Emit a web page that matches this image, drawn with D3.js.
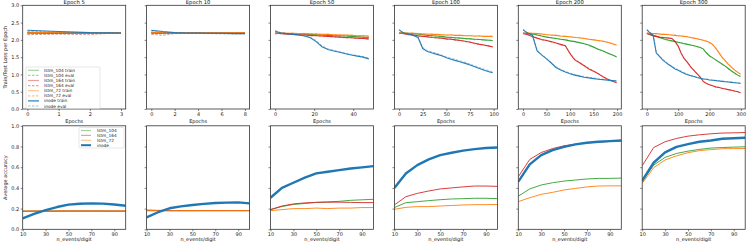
<!DOCTYPE html>
<html><head><meta charset="utf-8">
<script src="https://cdn.jsdelivr.net/npm/d3@7"></script>
<style>body{margin:0;background:#fff}svg{display:block;font-family:"DejaVu Sans",sans-serif}</style>
</head><body><svg id="c" width="747" height="242"></svg>
<script>
// ---------- top row: loss per epoch ----------
const panelTitles = ["Epoch 5","Epoch 10","Epoch 50","Epoch 100","Epoch 200","Epoch 300"];
const lossTicks = [0,0.5,1.0,1.5,2.0,2.5,3.0];
const epochTicks5 = [0,1,2,3];
const epochTicks10 = [0,2,4,6,8];
const epochTicks50 = [0,20,40];
const epochTicks100 = [0,25,50,75,100];
const epochTicks200 = [0,50,100,150,200];
const epochTicks300 = [0,100,200,300];

const ep5 = [0,1,2,3];
const l5_104t = [2.21,2.20,2.20,2.20], l5_104e = [2.17,2.17,2.18,2.19];
const l5_164t = [2.20,2.19,2.19,2.20], l5_164e = [2.15,2.17,2.15,2.21];
const l5_72t = [2.22,2.21,2.20,2.20],  l5_72e = [2.21,2.20,2.19,2.20];
const l5_it = [2.28,2.24,2.21,2.20],   l5_ie = [2.25,2.23,2.21,2.19];

const ep10 = [0,1,2,3,4,5,6,7,8];
const l10_104t = [2.21,2.20,2.20,2.20,2.20,2.20,2.20,2.20,2.20], l10_104e = [2.18,2.17,2.19,2.19,2.20,2.19,2.19,2.20,2.19];
const l10_164t = [2.20,2.19,2.20,2.20,2.20,2.20,2.20,2.20,2.20], l10_164e = [2.16,2.13,2.18,2.19,2.19,2.20,2.19,2.19,2.20];
const l10_72t = [2.22,2.21,2.20,2.20,2.20,2.20,2.20,2.20,2.20],  l10_72e = [2.21,2.19,2.20,2.19,2.20,2.20,2.20,2.20,2.20];
const l10_it = [2.28,2.24,2.21,2.20,2.20,2.19,2.19,2.18,2.18],   l10_ie = [2.26,2.22,2.20,2.19,2.19,2.18,2.17,2.17,2.17];

const ep50 = [0,3,6,9,12,15,18,21,24,27,30,33,36,39,42,45,48];
const l50_104t = [2.19,2.19,2.18,2.18,2.17,2.17,2.16,2.15,2.14,2.13,2.12,2.12,2.11,2.10,2.09,2.08,2.07];
const l50_104e = [2.20,2.18,2.19,2.17,2.18,2.16,2.17,2.14,2.15,2.12,2.13,2.11,2.12,2.09,2.10,2.07,2.08];
const l50_164t = [2.19,2.18,2.17,2.16,2.15,2.14,2.13,2.12,2.11,2.10,2.09,2.08,2.07,2.06,2.05,2.04,2.03];
const l50_164e = [2.17,2.19,2.15,2.17,2.13,2.15,2.11,2.13,2.09,2.11,2.07,2.09,2.05,2.06,2.03,2.05,2.01];
const l50_72t = [2.20,2.20,2.19,2.19,2.18,2.18,2.17,2.17,2.16,2.16,2.15,2.14,2.14,2.13,2.12,2.12,2.11];
const l50_72e = [2.19,2.21,2.18,2.20,2.17,2.19,2.16,2.18,2.15,2.17,2.14,2.16,2.13,2.14,2.11,2.13,2.10];
const l50_it = [2.25,2.20,2.18,2.16,2.14,2.11,2.06,1.95,1.80,1.72,1.68,1.64,1.60,1.56,1.53,1.50,1.45];
const l50_ie = [2.27,2.21,2.19,2.17,2.15,2.12,2.08,1.98,1.83,1.74,1.70,1.66,1.62,1.58,1.55,1.52,1.47];

const ep100 = [0,5,10,15,20,25,30,35,40,45,50,55,60,65,70,75,80,85,90,95,99];
const l100_104t = [2.20,2.20,2.19,2.18,2.17,2.15,2.13,2.12,2.11,2.10,2.08,2.07,2.06,2.05,2.04,2.03,2.02,2.01,2.00,1.99,1.98];
const l100_104e = [2.19,2.21,2.18,2.19,2.15,2.16,2.11,2.13,2.09,2.11,2.06,2.08,2.04,2.06,2.02,2.04,2.00,2.02,1.98,2.00,1.97];
const l100_164t = [2.20,2.18,2.16,2.14,2.12,2.10,2.09,2.07,2.06,2.05,2.03,2.02,2.00,1.98,1.96,1.93,1.90,1.87,1.85,1.82,1.80];
const l100_164e = [2.18,2.19,2.14,2.15,2.10,2.11,2.07,2.08,2.04,2.06,2.01,2.03,1.98,1.99,1.94,1.95,1.88,1.89,1.83,1.84,1.78];
const l100_72t = [2.20,2.20,2.19,2.19,2.18,2.17,2.17,2.16,2.16,2.15,2.14,2.14,2.13,2.13,2.12,2.12,2.11,2.11,2.10,2.10,2.10];
const l100_72e = [2.19,2.21,2.18,2.20,2.17,2.18,2.15,2.17,2.14,2.16,2.13,2.15,2.12,2.14,2.11,2.13,2.10,2.12,2.09,2.11,2.09];
const l100_it = [2.29,2.19,2.16,2.13,2.07,1.75,1.66,1.62,1.58,1.54,1.48,1.44,1.40,1.36,1.32,1.27,1.22,1.17,1.12,1.08,1.05];
const l100_ie = [2.30,2.21,2.18,2.15,2.10,1.78,1.69,1.65,1.61,1.56,1.51,1.47,1.43,1.39,1.35,1.30,1.25,1.20,1.15,1.11,1.07];

const ep200 = [0,10,20,30,40,50,60,70,80,90,100,110,120,130,140,150,160,170,180,190,199];
const l200_104t = [2.19,2.18,2.17,2.14,2.11,2.08,2.06,2.04,2.02,2.00,1.97,1.95,1.92,1.89,1.85,1.79,1.73,1.68,1.62,1.56,1.51];
const l200_104e = [2.18,2.19,2.16,2.15,2.10,2.09,2.05,2.05,2.01,2.01,1.96,1.96,1.91,1.90,1.83,1.80,1.71,1.69,1.60,1.57,1.49];
const l200_164t = [2.19,2.15,2.10,2.05,2.01,1.98,1.95,1.91,1.87,1.83,1.60,1.42,1.34,1.25,1.16,1.09,1.02,0.93,0.86,0.80,0.76];
const l200_164e = [2.17,2.16,2.08,2.06,1.99,1.99,1.93,1.92,1.85,1.84,1.62,1.44,1.36,1.27,1.18,1.11,1.03,0.95,0.87,0.81,0.77];
const l200_72t = [2.20,2.20,2.19,2.18,2.17,2.15,2.14,2.13,2.11,2.10,2.09,2.07,2.06,2.04,2.02,2.00,1.98,1.96,1.93,1.89,1.85];
const l200_72e = [2.19,2.21,2.18,2.19,2.16,2.16,2.13,2.14,2.10,2.11,2.08,2.08,2.05,2.05,2.01,2.01,1.97,1.97,1.92,1.90,1.82];
const l200_it = [2.29,2.19,2.14,1.68,1.56,1.45,1.33,1.20,1.13,1.07,1.02,0.98,0.95,0.92,0.90,0.88,0.86,0.85,0.83,0.82,0.81];
const l200_ie = [2.31,2.21,2.16,1.71,1.58,1.47,1.35,1.23,1.15,1.09,1.04,1.00,0.97,0.94,0.92,0.90,0.88,0.86,0.85,0.83,0.82];

const ep300 = [0,10,20,30,40,50,60,70,80,90,100,110,120,130,140,150,160,170,180,190,200,210,220,230,240,250,260,270,280,290,299];
const l300_104t = [2.19,2.16,2.13,2.10,2.07,2.04,2.01,1.99,1.97,1.95,1.93,1.91,1.89,1.87,1.85,1.83,1.81,1.78,1.74,1.62,1.54,1.48,1.42,1.36,1.30,1.24,1.17,1.10,1.04,0.98,0.94];
const l300_104e = [2.18,2.17,2.12,2.11,2.06,2.05,2.00,2.00,1.96,1.96,1.92,1.92,1.88,1.88,1.84,1.84,1.80,1.79,1.72,1.64,1.52,1.49,1.40,1.37,1.28,1.25,1.15,1.11,1.02,0.99,0.92];
const l300_164t = [2.19,2.15,2.12,2.10,2.08,2.07,2.06,2.05,2.04,1.95,1.82,1.60,1.45,1.34,1.22,1.12,1.02,0.92,0.80,0.74,0.70,0.67,0.64,0.62,0.60,0.58,0.56,0.54,0.52,0.50,0.47];
const l300_164e = [2.17,2.16,2.11,2.11,2.07,2.08,2.05,2.06,2.03,1.97,1.80,1.62,1.43,1.36,1.20,1.14,1.00,0.94,0.79,0.75,0.69,0.68,0.63,0.63,0.59,0.59,0.55,0.55,0.51,0.51,0.46];
const l300_72t = [2.20,2.19,2.18,2.18,2.17,2.16,2.16,2.15,2.14,2.13,2.12,2.11,2.10,2.09,2.07,2.05,2.03,2.01,1.99,1.96,1.93,1.86,1.76,1.63,1.50,1.40,1.30,1.21,1.13,1.06,1.01];
const l300_72e = [2.19,2.20,2.17,2.19,2.16,2.17,2.15,2.16,2.13,2.14,2.11,2.12,2.09,2.10,2.06,2.06,2.02,2.02,1.98,1.97,1.91,1.87,1.74,1.64,1.48,1.41,1.28,1.22,1.11,1.07,0.99];
const l300_it = [2.29,2.20,2.13,1.62,1.52,1.42,1.35,1.28,1.22,1.16,1.12,1.07,1.03,0.99,0.96,0.94,0.91,0.89,0.87,0.86,0.84,0.83,0.82,0.81,0.80,0.79,0.78,0.77,0.76,0.75,0.74];
const l300_ie = [2.31,2.22,2.15,1.66,1.55,1.45,1.37,1.30,1.24,1.18,1.14,1.09,1.05,1.01,0.98,0.95,0.92,0.90,0.88,0.87,0.85,0.84,0.83,0.82,0.81,0.80,0.79,0.78,0.77,0.76,0.75];

// ---------- bottom row: accuracy vs n_events/digit ----------
const nEvents = [10,20,30,40,50,60,70,80,90,100];
const nEventTicks = [10,30,50,70,90];
const accTicks = [0,0.2,0.4,0.6,0.8,1.0];
const a5_104 = [0.175,0.176,0.176,0.177,0.177,0.177,0.177,0.177,0.176,0.176];
const a5_164 = [0.174,0.175,0.175,0.175,0.176,0.176,0.176,0.176,0.176,0.176];
const a5_72  = [0.176,0.176,0.177,0.177,0.177,0.177,0.177,0.177,0.177,0.177];
const a5_in  = [0.106,0.150,0.186,0.215,0.238,0.247,0.250,0.248,0.240,0.228];
const a10_104 = [0.180,0.180,0.180,0.180,0.180,0.181,0.181,0.181,0.181,0.181];
const a10_164 = [0.186,0.183,0.181,0.180,0.180,0.180,0.180,0.180,0.180,0.180];
const a10_72  = [0.180,0.180,0.179,0.180,0.180,0.180,0.180,0.180,0.180,0.180];
const a10_in  = [0.116,0.165,0.203,0.222,0.235,0.246,0.254,0.258,0.260,0.250];
const a50_104 = [0.19,0.22,0.24,0.25,0.26,0.265,0.27,0.28,0.285,0.29];
const a50_164 = [0.19,0.225,0.245,0.255,0.26,0.262,0.262,0.26,0.258,0.258];
const a50_72  = [0.18,0.19,0.20,0.20,0.205,0.20,0.205,0.205,0.21,0.21];
const a50_in  = [0.305,0.40,0.45,0.50,0.54,0.556,0.572,0.588,0.598,0.61];
const a100_104 = [0.21,0.257,0.267,0.277,0.286,0.293,0.296,0.30,0.30,0.296];
const a100_164 = [0.235,0.315,0.347,0.37,0.39,0.40,0.41,0.418,0.418,0.415];
const a100_72  = [0.193,0.212,0.219,0.219,0.225,0.23,0.235,0.238,0.238,0.24];
const a100_in  = [0.40,0.54,0.62,0.675,0.717,0.74,0.76,0.775,0.785,0.79];
const a200_104 = [0.32,0.39,0.428,0.45,0.466,0.476,0.486,0.492,0.492,0.495];
const a200_164 = [0.508,0.675,0.742,0.78,0.807,0.823,0.836,0.842,0.849,0.852];
const a200_72  = [0.267,0.305,0.338,0.357,0.38,0.395,0.41,0.418,0.42,0.42];
const a200_in  = [0.46,0.627,0.717,0.765,0.797,0.82,0.836,0.846,0.852,0.858];
const a300_104 = [0.46,0.62,0.695,0.733,0.755,0.772,0.785,0.79,0.794,0.797];
const a300_164 = [0.614,0.79,0.846,0.878,0.90,0.913,0.923,0.93,0.932,0.935];
const a300_72  = [0.444,0.595,0.67,0.71,0.74,0.76,0.77,0.778,0.78,0.78];
const a300_in  = [0.47,0.643,0.743,0.797,0.823,0.846,0.858,0.875,0.88,0.884];

// ---------- assemble ----------
const C = {g:"#2ca02c", r:"#d62728", o:"#ff7f0e", b:"#1f77b4"};
const topPanels = [
  {ep:ep5, ticks:epochTicks5, s:[l5_104t,l5_104e,l5_164t,l5_164e,l5_72t,l5_72e,l5_it,l5_ie]},
  {ep:ep10, ticks:epochTicks10, s:[l10_104t,l10_104e,l10_164t,l10_164e,l10_72t,l10_72e,l10_it,l10_ie]},
  {ep:ep50, ticks:epochTicks50, s:[l50_104t,l50_104e,l50_164t,l50_164e,l50_72t,l50_72e,l50_it,l50_ie]},
  {ep:ep100, ticks:epochTicks100, s:[l100_104t,l100_104e,l100_164t,l100_164e,l100_72t,l100_72e,l100_it,l100_ie]},
  {ep:ep200, ticks:epochTicks200, s:[l200_104t,l200_104e,l200_164t,l200_164e,l200_72t,l200_72e,l200_it,l200_ie]},
  {ep:ep300, ticks:epochTicks300, s:[l300_104t,l300_104e,l300_164t,l300_164e,l300_72t,l300_72e,l300_it,l300_ie]}
];
const topSeriesNames = ["lstm_104 train","lstm_104 eval","lstm_164 train","lstm_164 eval","lstm_72 train","lstm_72 eval","inode train","inode eval"];
const topSeriesColors = [C.g,C.g,C.r,C.r,C.o,C.o,C.b,C.b];
const botPanels = [
  [a5_104,a5_164,a5_72,a5_in],[a10_104,a10_164,a10_72,a10_in],[a50_104,a50_164,a50_72,a50_in],
  [a100_104,a100_164,a100_72,a100_in],[a200_104,a200_164,a200_72,a200_in],[a300_104,a300_164,a300_72,a300_in]
];
const botNames = ["lstm_104","lstm_164","lstm_72","inode"];
const botColors = [C.g,C.r,C.o,C.b];

const svg = d3.select("#c");
const colLeft = [22.7,146.6,270.5,394.4,518.3,642.2];
const pw = 103;
const topY0 = 5.3, topY1 = 109;
const botY0 = 125.8, botY1 = 229.3;
const fs = 5;

function frame(g, x, y, w, h){
  g.append("rect").attr("x",x).attr("y",y).attr("width",w).attr("height",h)
    .attr("fill","none").attr("stroke","#333").attr("stroke-width",0.8);
}
function styleAxis(a){
  a.select(".domain").remove();
  a.selectAll(".tick line").attr("stroke","#333").attr("stroke-width",0.6);
  a.selectAll(".tick text").attr("font-size",fs).attr("fill","#222").attr("font-family","DejaVu Sans");
}

topPanels.forEach((p,i)=>{
  const x0 = colLeft[i];
  const g = svg.append("g");
  const maxE = d3.max(p.ep);
  const x = d3.scaleLinear().domain([-0.05*maxE, maxE*1.05]).range([x0, x0+pw]);
  const y = d3.scaleLinear().domain([0,3]).range([topY1, topY0]);
  p.s.forEach((vals,k)=>{
    const line = d3.line().x((d,j)=>x(p.ep[j])).y(d=>y(d));
    const isEval = k%2===1;
    g.append("path").datum(vals).attr("d",line).attr("fill","none")
      .attr("stroke",topSeriesColors[k]).attr("stroke-width",isEval?0.9:1.1)
      .attr("stroke-opacity",isEval?0.5:0.95)
      .attr("stroke-dasharray",isEval?"2.5,1.5":null);
  });
  const ax = g.append("g").attr("transform",`translate(0,${topY1})`)
    .call(d3.axisBottom(x).tickValues(p.ticks).tickSize(2).tickPadding(1.5).tickFormat(d3.format("d")));
  styleAxis(ax);
  const ay = g.append("g").attr("transform",`translate(${x0},0)`)
    .call(d3.axisLeft(y).tickValues(lossTicks).tickSize(2).tickPadding(1.5).tickFormat(i===0?d3.format(".1f"):()=>""));
  styleAxis(ay);
  frame(g, x0, topY0, pw, topY1-topY0);
  g.append("text").attr("x",x0+pw/2).attr("y",4.4).attr("text-anchor","middle")
    .attr("font-size",5.3).attr("fill","#111").text(panelTitles[i]);
  g.append("text").attr("x",x0+pw/2).attr("y",122.5).attr("text-anchor","middle")
    .attr("font-size",fs).attr("fill","#111").text("Epochs");
});

// top legend
{
  const lg = svg.append("g");
  const bx = 26, by = 67, bw = 74, bh = 41.5;
  lg.append("rect").attr("x",bx).attr("y",by).attr("width",bw).attr("height",bh).attr("rx",1)
    .attr("fill","#fff").attr("fill-opacity",0.8).attr("stroke","#ccc").attr("stroke-width",0.5);
  topSeriesNames.forEach((n,k)=>{
    const yy = by + 3.3 + k*5.1;
    const isEval = k%2===1;
    lg.append("line").attr("x1",bx+2).attr("x2",bx+13).attr("y1",yy).attr("y2",yy)
      .attr("stroke",topSeriesColors[k]).attr("stroke-width",1.2)
      .attr("stroke-opacity",k===6?0.95:0.45).attr("stroke-dasharray",isEval?"2.5,1.5":null);
    lg.append("text").attr("x",bx+18).attr("y",yy+1.5).attr("font-size",4.3).attr("fill","#222").text(n);
  });
}

svg.append("text").attr("transform",`translate(6.5,${(topY0+topY1)/2}) rotate(-90)`)
  .attr("text-anchor","middle").attr("font-size",fs).attr("fill","#111").text("Train/Test Loss per Epoch");

botPanels.forEach((s,i)=>{
  const x0 = colLeft[i];
  const g = svg.append("g");
  const x = d3.scaleLinear().domain([10,100]).range([x0, x0+pw]);
  const y = d3.scaleLinear().domain([0,1]).range([botY1, botY0]);
  const clipId = "clip"+i;
  g.append("clipPath").attr("id",clipId).append("rect").attr("x",x0).attr("y",botY0).attr("width",pw).attr("height",botY1-botY0);
  const line = d3.line().x((d,j)=>x(nEvents[j])).y(d=>y(d));
  s.forEach((vals,k)=>{
    g.append("path").datum(vals).attr("d",line).attr("fill","none").attr("clip-path",`url(#${clipId})`)
      .attr("stroke",botColors[k]).attr("stroke-width",k===3?2.4:0.9).attr("stroke-linejoin","round");
  });
  const ax = g.append("g").attr("transform",`translate(0,${botY1})`)
    .call(d3.axisBottom(x).tickValues(nEventTicks).tickSize(2).tickPadding(1.5).tickFormat(d3.format("d")));
  styleAxis(ax);
  const ay = g.append("g").attr("transform",`translate(${x0},0)`)
    .call(d3.axisLeft(y).tickValues(accTicks).tickSize(2).tickPadding(1.5).tickFormat(i===0?d3.format(".1f"):()=>""));
  styleAxis(ay);
  frame(g, x0, botY0, pw, botY1-botY0);
  g.append("text").attr("x",x0+pw/2).attr("y",241).attr("text-anchor","middle")
    .attr("font-size",fs).attr("fill","#111").text("n_events/digit");
});

// bottom legend
{
  const lg = svg.append("g");
  const bx = 79, by = 127.5, bw = 45, bh = 20.5;
  lg.append("rect").attr("x",bx).attr("y",by).attr("width",bw).attr("height",bh).attr("rx",1)
    .attr("fill","#fff").attr("fill-opacity",0.8).attr("stroke","#ccc").attr("stroke-width",0.5);
  botNames.forEach((n,k)=>{
    const yy = by + 3 + k*4.9;
    lg.append("line").attr("x1",bx+2).attr("x2",bx+12).attr("y1",yy).attr("y2",yy)
      .attr("stroke",botColors[k]).attr("stroke-width",k===3?2:1.2).attr("stroke-opacity",k===3?1:0.45);
    lg.append("text").attr("x",bx+18).attr("y",yy+1.5).attr("font-size",4.3).attr("fill","#222").text(n);
  });
}

svg.append("text").attr("transform",`translate(6.5,${(botY0+botY1)/2}) rotate(-90)`)
  .attr("text-anchor","middle").attr("font-size",fs).attr("fill","#111").text("Average accuracy");
</script></body></html>
